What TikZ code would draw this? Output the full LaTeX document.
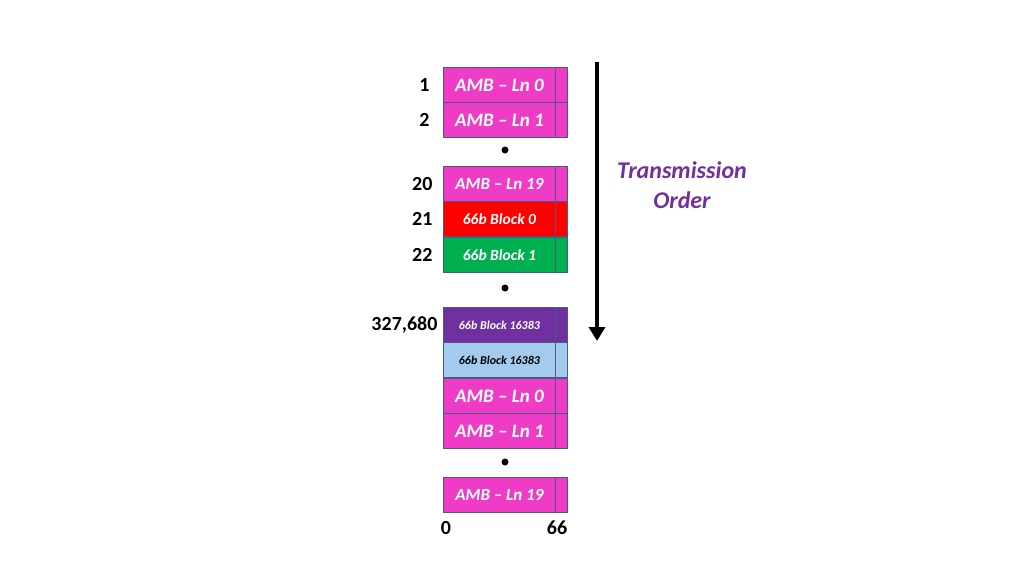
\documentclass[tikz,border=0pt]{standalone}
\usepackage{fontspec}
\setmainfont{Carlito}
\usetikzlibrary{arrows.meta}
\definecolor{mag}{HTML}{EE3CC6}
\definecolor{grn}{HTML}{00B050}
\definecolor{pur}{HTML}{7030A0}
\definecolor{lbl}{HTML}{A3CBEE}
\definecolor{edge}{HTML}{4A5A80}
\definecolor{tpur}{HTML}{7030A0}
\begin{document}
\begin{tikzpicture}[x=1pt,y=-1pt,
  blk/.style={draw=edge,line width=0.8pt,minimum width=112pt,minimum height=35pt,inner sep=0,anchor=north west},
  tail/.style={draw=edge,line width=0.8pt,minimum width=12pt,minimum height=35pt,inner sep=0,anchor=north west},
  num/.style={font=\bfseries\fontsize{20}{20}\selectfont,anchor=east}]
\useasboundingbox (0,0) rectangle (1024,576);
\foreach \n/\y/\c/\t/\tc/\fs in {
 a0/67/mag/{AMB -- Ln 0}/white/19,
 a1/102/mag/{AMB -- Ln 1}/white/19,
 a19/166/mag/{AMB -- Ln 19}/white/17,
 b0/201/red/{66b Block 0}/white/15.5,
 b1/237/grn/{66b Block 1}/white/15.5,
 bl/307/pur/{66b Block 16383}/white/12,
 bm/342/lbl/{66b Block 16383}/black/12,
 c0/378/mag/{AMB -- Ln 0}/white/19,
 c1/413/mag/{AMB -- Ln 1}/white/19,
 c19/477/mag/{AMB -- Ln 19}/white/17}{
  \node[blk,fill=\c,text=\tc,font=\bfseries\itshape\fontsize{\fs}{\fs}\selectfont] (\n) at (443,\y) {\t};
  \node[tail,fill=\c] (\n t) at (555,\y) {};
}
\foreach \y in {150,288,462} \fill (505,\y) circle (3.5pt);
\node[num] (l1) at (433,85) {1};
\node[num] (l2) at (433,120) {2};
\node[num] (l20) at (436,184) {20};
\node[num] (l21) at (436,219) {21};
\node[num] (l22) at (436,255) {22};
\node[num] (l3) at (441,325) {327,680};
\node[font=\bfseries\fontsize{20}{20}\selectfont] (z) at (446,528) {0};
\node[font=\bfseries\fontsize{20}{20}\selectfont] (s) at (557,528) {66};
\coordinate (ta) at (597,62);
\coordinate (tb) at (597,341);
\draw[line width=3.5pt,-{Triangle[length=14pt,width=16pt]}] (ta) -- (tb);
\node[text=tpur,font=\bfseries\itshape\fontsize{24}{30}\selectfont,align=center] (tr) at (682,185) {Transmission\\Order};
\end{tikzpicture}
\end{document}
